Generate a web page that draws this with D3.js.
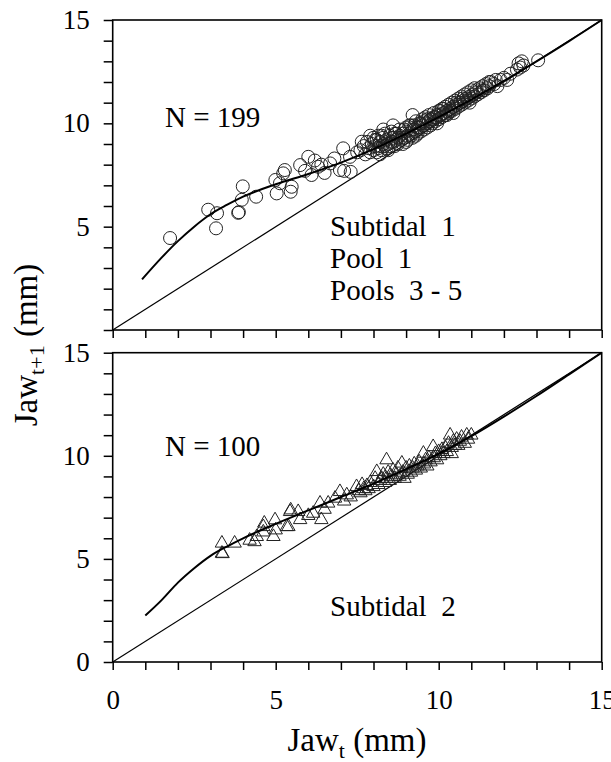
<!DOCTYPE html>
<html>
<head>
<meta charset="utf-8">
<script src="https://cdn.jsdelivr.net/npm/d3@7"></script>
<style>
  body { margin: 0; background: #fff; }
</style>
</head>
<body>
<svg id="chart" width="611" height="762"></svg>
<script>
var SERIF = "'Liberation Serif'";

// tick values
var tickValues = [0, 1, 2, 3, 4, 5, 6, 7, 8, 9, 10, 11, 12, 13, 14, 15];
var tickLabels = [0, 5, 10, 15];
var topYLabels = [5, 10, 15];

// top panel: Subtidal 1, Pool 1, Pools 3 - 5 (circles)
var topX = [1.76, 2.93, 3.2, 3.17, 3.85, 3.87, 3.96, 3.99, 4.4, 4.99, 5.23, 5.13, 5.46, 5.03, 5.75, 5.28, 5.49, 6.0, 6.2, 6.67, 7.07, 6.97, 7.64, 7.28, 6.3, 6.5, 6.1, 5.9, 6.8, 7.1, 7.3, 6.4, 7.5,
  7.6, 7.7, 7.75, 7.8, 7.85, 7.9, 7.95, 8.0, 8.0, 8.05, 8.1, 8.1, 8.15, 8.2, 8.2, 8.25, 8.3, 8.3, 8.35, 8.4, 8.4, 8.45, 8.5, 8.5, 8.55, 8.6, 8.6, 8.65, 8.7, 8.7, 8.75, 8.8, 8.8, 8.85, 8.9, 8.9, 8.95,
  9.0, 9.0, 9.05, 9.1, 9.1, 9.15, 9.2, 9.2, 9.25, 9.3, 9.3, 9.35, 9.4, 9.4, 9.45, 9.5, 9.5, 9.55, 9.6, 9.6, 9.65, 9.7, 9.7, 9.75, 9.8, 9.8, 9.85, 9.9, 9.9, 9.95,
  10.0, 10.0, 10.05, 10.1, 10.1, 10.15, 10.2, 10.2, 10.25, 10.3, 10.3, 10.35, 10.4, 10.4, 10.45, 10.5, 10.5, 10.55, 10.6, 10.6, 10.65, 10.7, 10.7, 10.75, 10.8, 10.8, 10.85, 10.9, 10.9, 10.95,
  11.0, 11.0, 11.05, 11.1, 11.1, 11.15, 11.2, 11.25, 11.3, 11.35, 11.4, 11.45, 11.5, 11.55, 11.6, 11.7, 11.75, 11.8, 11.9, 12.0, 12.1, 12.2, 12.4, 12.45, 12.5, 12.55, 12.6, 13.05,
  8.3, 8.6, 7.9, 9.2, 8.2, 8.45, 9.0, 9.3, 8.05, 8.25, 8.55, 8.75, 8.95, 9.15, 9.35, 9.55, 9.75, 9.95, 10.15, 10.35, 10.55, 10.75, 10.95, 11.15, 11.35, 11.55, 8.15, 8.35, 8.65, 8.85, 9.05, 9.25, 9.45, 9.65, 9.85, 10.05, 10.25, 10.45];
var topY = [4.45, 5.82, 5.65, 4.92, 5.67, 5.7, 6.3, 6.95, 6.45, 7.26, 7.58, 7.1, 6.69, 6.61, 7.98, 7.74, 6.93, 8.38, 8.2, 8.06, 8.79, 7.74, 9.11, 8.38, 7.9, 7.6, 7.5, 7.7, 8.3, 7.7, 7.65, 8.0, 8.6,
  8.7, 8.9, 8.5, 9.1, 8.8, 8.6, 9.0, 9.3, 8.7, 8.9, 9.2, 8.6, 9.4, 8.9, 9.1, 8.7, 9.3, 9.0, 9.5, 8.8, 9.2, 9.0, 9.4, 8.9, 9.6, 9.1, 9.3, 8.9, 9.5, 9.2, 9.0, 9.4, 9.7, 9.2, 9.5, 9.0, 9.3,
  9.6, 9.8, 9.2, 9.5, 9.9, 9.4, 9.7, 9.3, 9.9, 9.6, 10.1, 9.5, 9.8, 10.0, 9.6, 10.2, 9.9, 9.7, 10.0, 10.3, 9.8, 10.1, 10.4, 9.9, 10.2, 10.0, 10.5, 10.3, 10.1, 10.4,
  10.2, 10.6, 10.4, 10.3, 10.7, 10.5, 10.4, 10.8, 10.6, 10.5, 10.9, 10.7, 10.6, 11.0, 10.8, 10.7, 11.1, 10.9, 11.2, 10.8, 11.0, 11.3, 10.9, 11.1, 11.4, 11.0, 11.2, 11.5, 11.1, 11.3,
  11.6, 11.2, 11.4, 11.3, 11.7, 11.5, 11.4, 11.7, 11.5, 11.8, 11.6, 11.9, 11.7, 11.8, 12.0, 11.9, 12.1, 11.8, 12.1, 12.2, 12.1, 12.4, 12.6, 12.9, 12.7, 13.0, 12.8, 13.05,
  9.7, 9.9, 9.4, 10.4, 8.5, 8.7, 9.1, 9.4, 9.2, 9.4, 9.1, 9.3, 9.7, 9.9, 9.8, 10.1, 10.2, 10.0, 10.7, 10.6, 11.0, 11.2, 11.0, 11.6, 11.6, 12.0, 8.8, 8.9, 9.5, 9.3, 9.4, 9.7, 10.0, 10.2, 10.3, 10.6, 10.4, 10.5];

// bottom panel: Subtidal 2 (triangles)
var botX = [3.35, 3.35, 3.37, 3.74, 4.35, 4.42, 4.62, 4.62, 4.65, 4.93, 4.98, 5.0, 5.34, 5.39, 5.44, 5.46, 5.69, 5.75, 6.0, 6.15, 6.36, 6.5, 6.61, 6.82, 6.97, 7.1, 7.18, 7.3, 7.48, 7.55,
  7.6, 7.65, 7.7, 7.75, 7.8, 7.85, 7.9, 8.0, 8.05, 8.1, 8.15, 8.2, 8.25, 8.3, 8.35, 8.4, 8.4, 8.45, 8.5, 8.55, 8.6, 8.65, 8.7, 8.75, 8.8, 8.87, 8.9, 8.95, 9.0, 9.05,
  9.1, 9.15, 9.2, 9.25, 9.3, 9.35, 9.4, 9.45, 9.53, 9.55, 9.6, 9.65, 9.7, 9.75, 9.83, 9.85, 9.9, 9.95, 10.0, 10.05, 10.1, 10.15, 10.2, 10.25, 10.3, 10.35, 10.4, 10.45, 10.5, 10.55,
  10.6, 10.65, 10.7, 10.8, 10.86, 10.9, 11.0, 10.4, 4.2, 6.4];
var botY = [5.76, 5.27, 5.25, 5.76, 5.83, 6.08, 6.56, 6.3, 6.73, 6.08, 6.89, 6.4, 6.56, 6.56, 7.29, 7.37, 7.29, 6.9, 7.1, 7.21, 7.7, 7.4, 7.7, 7.94, 8.26, 7.8, 8.1, 8.0, 8.5, 8.3,
  8.2, 8.6, 8.4, 8.3, 8.55, 8.4, 8.7, 8.5, 8.9, 9.23, 8.6, 8.8, 8.9, 9.1, 8.7, 9.8, 8.9, 9.2, 8.8, 9.0, 9.3, 8.9, 9.1, 9.4, 9.0, 9.64, 9.2, 8.9, 9.4, 9.1,
  9.5, 9.2, 9.4, 9.6, 9.3, 9.5, 9.7, 9.4, 10.12, 9.6, 9.8, 9.5, 9.9, 9.7, 10.44, 9.9, 10.1, 9.8, 10.2, 10.0, 10.3, 10.1, 10.4, 10.2, 10.6, 11.0, 10.4, 10.7, 10.5, 10.8,
  10.5, 10.7, 10.9, 10.6, 11.0, 10.8, 11.0, 10.1, 5.9, 6.9];

// fitted curves
var topFitX = [0.9, 1.5, 2, 2.5, 3, 3.5, 4, 5, 6, 7, 8, 9, 10, 11, 12, 13, 14, 15];
var topFitY = [2.45, 3.5, 4.3, 5.0, 5.6, 6.05, 6.45, 7.05, 7.55, 8.1, 8.75, 9.5, 10.3, 11.15, 12.05, 13.0, 13.98, 15];
var botFitX = [1.0, 1.5, 2, 2.5, 3, 3.5, 4, 5, 6, 7, 8, 9, 10, 11, 12, 13, 14, 15];
var botFitY = [2.25, 3.0, 3.85, 4.55, 5.15, 5.6, 6.0, 6.7, 7.35, 8.0, 8.65, 9.35, 10.1, 10.95, 11.9, 12.9, 13.95, 15];
var idLine = [0, 15];

var svg = d3.select("#chart");

var x = d3.scaleLinear().domain([0, 15]).range([112.7, 601.7]);
var yTop = d3.scaleLinear().domain([0, 15]).range([330, 20]);
var yBot = d3.scaleLinear().domain([0, 15]).range([662, 352.7]);

function drawPanel(y, xs, ys, fx, fy, yLabels, showXLabels, marker) {
  var g = svg.append("g");

  // 1:1 line
  g.append("line")
    .attr("x1", x(idLine[0])).attr("y1", y(idLine[0]))
    .attr("x2", x(idLine[1])).attr("y2", y(idLine[1]))
    .attr("stroke", "#000").attr("stroke-width", 1.2);

  // points
  var pts = xs.map(function(d, i) { return [d, ys[i]]; });
  if (marker == "circle") {
    g.selectAll("circle.pt").data(pts).enter().append("circle")
      .attr("class", "pt")
      .attr("cx", function(d) { return x(d[0]); })
      .attr("cy", function(d) { return y(d[1]); })
      .attr("r", 6.5)
      .attr("fill", "none")
      .attr("stroke", "#222")
      .attr("stroke-width", 1);
  } else {
    var tri = d3.symbol().type(d3.symbolTriangle).size(78);
    g.selectAll("path.pt").data(pts).enter().append("path")
      .attr("class", "pt")
      .attr("d", tri)
      .attr("transform", function(d) { return "translate(" + x(d[0]) + "," + y(d[1]) + ")"; })
      .attr("fill", "none")
      .attr("stroke", "#222")
      .attr("stroke-width", 1);
  }

  // fitted curve
  var line = d3.line()
    .x(function(d) { return x(d[0]); })
    .y(function(d) { return y(d[1]); })
    .curve(d3.curveMonotoneX);
  g.append("path")
    .datum(fx.map(function(d, i) { return [d, fy[i]]; }))
    .attr("d", line)
    .attr("fill", "none")
    .attr("stroke", "#000")
    .attr("stroke-width", 2);

  // axes
  var yAxis = d3.axisLeft(y)
    .tickValues(tickValues)
    .tickSize(9).tickSizeOuter(0).tickPadding(14)
    .tickFormat(function(d) { return yLabels.indexOf(d) >= 0 ? d : ""; });
  var ya = g.append("g")
    .attr("transform", "translate(" + x(0) + ",0)")
    .call(yAxis);

  var xAxis = d3.axisBottom(x)
    .tickValues(tickValues)
    .tickSize(8).tickSizeOuter(0).tickPadding(20)
    .tickFormat(function(d) { return showXLabels && tickLabels.indexOf(d) >= 0 ? d : ""; });
  var xa = g.append("g")
    .attr("transform", "translate(0," + y(0) + ")")
    .call(xAxis);

  [ya, xa].forEach(function(a) {
    a.attr("font-family", null).attr("font-size", null);
    a.select(".domain").remove();
    a.selectAll("line").attr("stroke", "#000").attr("stroke-width", 1.5);
    a.selectAll("text")
      .style("font-family", SERIF)
      .style("font-size", "27px")
      .attr("fill", "#000");
  });

  // frame
  g.append("rect")
    .attr("x", x(0)).attr("y", y(15))
    .attr("width", x(15) - x(0)).attr("height", y(0) - y(15))
    .attr("fill", "none")
    .attr("stroke", "#000")
    .attr("stroke-width", 1.6);
  return g;
}

var gTop = drawPanel(yTop, topX, topY, topFitX, topFitY, topYLabels, false, "circle");
var gBot = drawPanel(yBot, botX, botY, botFitX, botFitY, tickLabels, true, "triangle");

// annotations
function note(g, tx, ty, s) {
  g.append("text")
    .attr("x", tx).attr("y", ty)
    .style("font-family", SERIF)
    .style("font-size", "29px")
    .style("white-space", "pre")
    .text(s);
}
note(gTop, 165, 127, "N = 199");
note(gTop, 330, 236, "Subtidal  1");
note(gTop, 330, 268, "Pool  1");
note(gTop, 330, 300, "Pools  3 - 5");
note(gBot, 165, 456, "N = 100");
note(gBot, 330, 616, "Subtidal  2");

// axis titles
var xt = svg.append("text")
  .attr("x", 357).attr("y", 751)
  .attr("text-anchor", "middle")
  .style("font-family", SERIF)
  .style("font-size", "33px");
xt.append("tspan").text("Jaw");
xt.append("tspan").style("font-size", "22px").attr("dy", 7).text("t");
xt.append("tspan").attr("dy", -7).text(" (mm)");

var yt = svg.append("text")
  .attr("transform", "translate(37,345) rotate(-90)")
  .attr("text-anchor", "middle")
  .style("font-family", SERIF)
  .style("font-size", "33px");
yt.append("tspan").text("Jaw");
yt.append("tspan").style("font-size", "22px").attr("dy", 7).text("t+1");
yt.append("tspan").attr("dy", -7).text(" (mm)");
</script>
</body>
</html>
